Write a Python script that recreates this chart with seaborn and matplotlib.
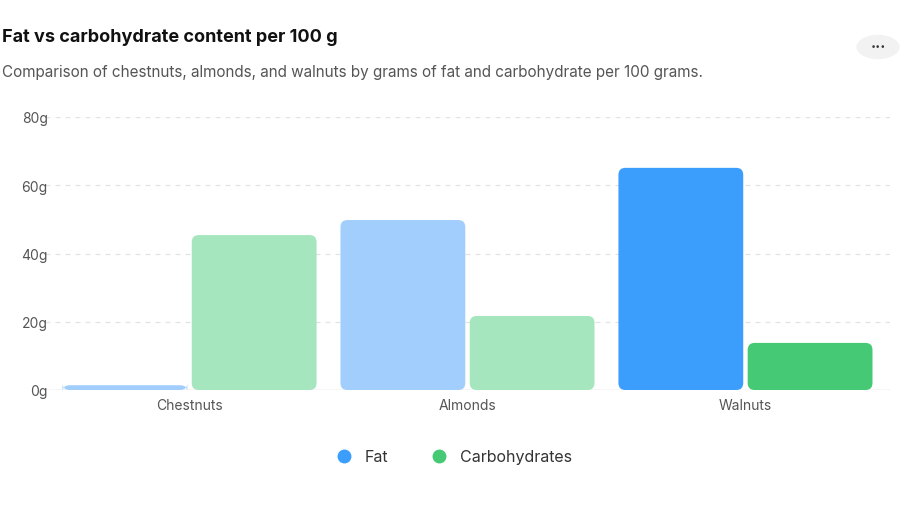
import matplotlib
matplotlib.use('Agg')
import matplotlib.pyplot as plt
import seaborn as sns
import pandas as pd
from matplotlib.patches import FancyBboxPatch, Circle
from matplotlib.lines import Line2D

nuts = ["Chestnuts", "Almonds", "Walnuts"]
fat = [1.4, 49.8, 65.1]
carbs = [45.4, 21.7, 13.8]
series = ["Fat", "Carbohydrates"]
yticks = [0, 20, 40, 60, 80]

FAT_C, CARB_C = "#3b9efd", "#45c974"
FAT_FADED, CARB_FADED = "#a1cefc", "#a6e6be"

df = pd.DataFrame({
    "nut": nuts * 2,
    "grams": fat + carbs,
    "series": [series[0]] * 3 + [series[1]] * 3,
})

sns.set_style("white")
plt.rcParams['font.family'] = ['Inter', 'DejaVu Sans']

fig = plt.figure(figsize=(9, 5.06), dpi=100)
ax = fig.add_axes([45 / 900, 1 - 391 / 506, 845 / 900, (391 - 118) / 506])

sns.barplot(data=df, x="nut", y="grams", hue="series", order=nuts,
            hue_order=series, palette=[FAT_C, CARB_C], width=0.93,
            legend=False, ax=ax)
ax.set_ylim(0, 80)
ax.set_xlim(-0.52, 2.52)

# highlighted group = Walnuts, others faded; swap rectangles for rounded ones
aspect = (280 / 1.0) / ((391 - 118) / 80)
bars = list(ax.patches)
for p in bars:
    x, y, w, h = p.get_x(), p.get_y(), p.get_width(), p.get_height()
    idx = int(round(x + w / 2 + 0.5 - 1e-6)) if False else int(round(x + w))
    is_fat = (x + w / 2) < round(x + w / 2 + 0.25) - 0.0 and (x + w / 2) % 1 > 0.5 or (x + w / 2) < 0
    center = x + w / 2
    grp = int(round(center))
    is_fat = center < grp
    if grp == 2:
        col = FAT_C if is_fat else CARB_C
    else:
        col = FAT_FADED if is_fat else CARB_FADED
    gap = 0.008
    rb = FancyBboxPatch((x + gap, y), w - 2 * gap, h,
                        boxstyle="round,pad=0,rounding_size=0.025",
                        mutation_aspect=aspect, facecolor=col, edgecolor="none")
    ax.add_patch(rb)
    p.remove()

ax.set_yticks(yticks)
ax.set_yticklabels([f"{v}g" for v in yticks])
ax.yaxis.grid(True, linestyle=(0, (4, 4)), color="#e3e3e3", linewidth=0.9)
ax.set_axisbelow(True)
for s in ax.spines.values():
    s.set_visible(False)
ax.axhline(0, color="#dddddd", linewidth=1, zorder=0.5)
ax.tick_params(axis="both", length=0, labelsize=10, colors="#555555", pad=6)
ax.tick_params(axis="y", pad=-2)
for lbl in ax.get_yticklabels():
    lbl.set_horizontalalignment("right")
ax.set_xlabel("")
ax.set_ylabel("")

fig.text(2 / 900, 1 - 38 / 506, "Fat vs carbohydrate content per 100 g",
         fontsize=13, fontweight="bold", color="#111111", va="center")
fig.text(2 / 900, 1 - 72 / 506,
         "Comparison of chestnuts, almonds, and walnuts by grams of fat and carbohydrate per 100 grams.",
         fontsize=11, color="#555555", va="center")

fig.patches.append(Circle((878 / 900, 1 - 48 / 506), 0.024, transform=fig.transFigure,
                          facecolor="#f2f2f2", edgecolor="none"))
fig.text(878 / 900, 1 - 47 / 506, "···", ha="center", va="center",
         fontsize=11, color="#333333", fontweight="bold")

handles = [Line2D([], [], marker="o", linestyle="", markersize=9, color=FAT_C),
           Line2D([], [], marker="o", linestyle="", markersize=9, color=CARB_C)]
fig.legend(handles, series, loc="center", bbox_to_anchor=(450 / 900, 1 - 458 / 506),
           ncol=2, frameon=False, fontsize=11.5, handletextpad=0.3,
           columnspacing=2.2, labelcolor="#333333")

fig.savefig("out.png", dpi=100)
